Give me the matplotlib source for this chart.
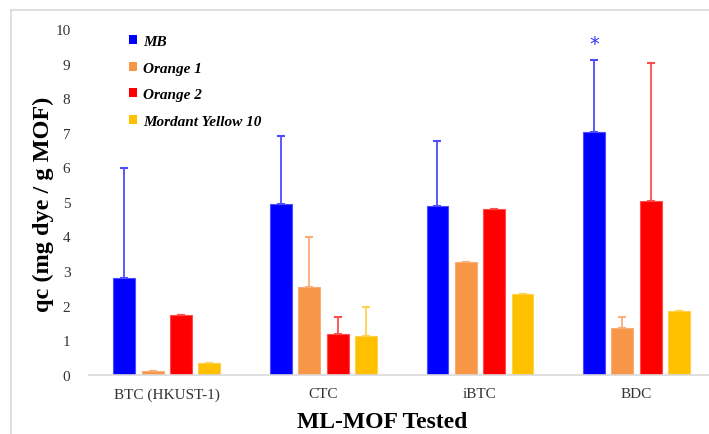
import matplotlib.pyplot as plt
import numpy as np
from matplotlib.lines import Line2D
from matplotlib.patches import Patch

# MOFs on the x axis
mofs = ['BTC (HKUST-1)', 'CTC', 'iBTC', 'BDC']
dyes = ['MB', 'Orange 1', 'Orange 2', 'Mordant Yellow 10']

# qc values (mg dye / g MOF), one list per dye
mb = [2.79, 4.94, 4.88, 7.03]
orange1 = [0.12, 2.53, 3.27, 1.35]
orange2 = [1.74, 1.18, 4.79, 5.02]
yellow10 = [0.34, 1.13, 2.32, 1.84]

# upper error bars
mb_err = [3.20, 1.97, 1.89, 2.08]
orange1_err = [0.0, 1.44, 0.0, 0.32]
orange2_err = [0.0, 0.50, 0.0, 4.00]
yellow10_err = [0.0, 0.83, 0.0, 0.0]

values = [mb, orange1, orange2, yellow10]
errors = [mb_err, orange1_err, orange2_err, yellow10_err]
colors = ['#0000ff', '#f79646', '#ff0000', '#ffc000']
err_colors = ['#4d4dff', '#f9ad78', '#ff4d4d', '#ffd24d']

plt.rcParams['font.family'] = ['Liberation Serif', 'DejaVu Serif']

fig = plt.figure(figsize=(7.09, 4.35), dpi=100)
ax = fig.add_axes([88.5/709, 59.3/435, 626.4/709, 345.7/435])

x = np.arange(len(mofs))
pitch = 0.181
width = 0.14
for i in range(len(dyes)):
    pos = x + (i - 1.5)*pitch
    ax.bar(pos, values[i], width, color=colors[i], edgecolor=err_colors[i],
           linewidth=0.8, zorder=2)
    ax.errorbar(pos, values[i], yerr=[np.zeros(len(mofs)), errors[i]],
                fmt='none', ecolor=err_colors[i], elinewidth=1.3,
                capsize=3, capthick=1.5, zorder=3)

# significance star above BDC / MB
ax.text(3 - 1.5*pitch, 9.58, '*', color='#3333ff', ha='center', va='center',
        fontsize=14, family='DejaVu Sans')

ax.set_xlim(-0.5, 3.5)
ax.set_ylim(0, 10)
ax.set_yticks(range(0, 11))
ax.set_xticks(x)
ax.set_xticklabels(mofs)
ax.tick_params(axis='both', length=0, labelsize=11, colors='#333333')
ax.tick_params(axis='x', pad=9)
ax.tick_params(axis='y', pad=13)
for s in ['left', 'top', 'right']:
    ax.spines[s].set_visible(False)
ax.spines['bottom'].set_color('#d9d9d9')
ax.spines['bottom'].set_linewidth(1.2)

fig.text(43/709, 1 - 204/435, 'qc (mg dye / g MOF)', fontsize=17.5, fontweight='bold',
         rotation=90, ha='center', va='center')
fig.text(382/709, 1 - 423/435, 'ML-MOF Tested', fontsize=17, fontweight='bold',
         ha='center', va='center')

handles = [Patch(facecolor=c, edgecolor='none') for c in colors]
leg = fig.legend(handles, dyes, loc='upper left', bbox_to_anchor=(115/709, 1 - 22/435),
                 frameon=False, handlelength=0.55, handleheight=0.55, handletextpad=0.4,
                 labelspacing=0.9, prop={'style': 'italic', 'weight': 'bold', 'size': 11})

# light frame around the chart
fig.add_artist(Line2D([11/709, 11/709], [0, 1 - 11/435], color='#d9d9d9', linewidth=1.2))
fig.add_artist(Line2D([11/709, 1], [1 - 11/435, 1 - 11/435], color='#d9d9d9', linewidth=1.2))

plt.savefig('out.png', dpi=100)
